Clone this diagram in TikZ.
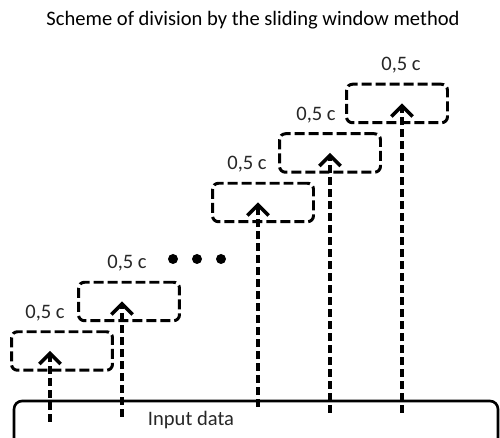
\documentclass[tikz,border=0pt]{standalone}
\usepackage{fontspec}
\setmainfont{Carlito}
\usetikzlibrary{arrows.meta}
\usetikzlibrary{positioning}

\tikzset{
  window/.style={draw, dash pattern=on 0.2cm off 0.08cm, line width=1.7pt,
    rounded corners=0.12cm, minimum width=2.02cm, minimum height=0.77cm, inner sep=0pt},
  shift arrow/.style={dash pattern=on 0.16cm off 0.08cm, line width=2pt,
    -{Straight Barb[length=6pt,width=12pt]}},
  share/.style={font=\fontsize{11.7}{13}\selectfont, text=black!85, inner sep=0pt},
}

\begin{document}
\begin{tikzpicture}[x=0.02cm, y=0.02cm]
\clip (0,0) rectangle (500,438);
% title
\node[share, text=black] (title) at (253,418) {Scheme of division by the sliding window method};
% input data
\node[draw, line width=1.5pt, rounded corners=0.16cm, minimum width=9.68cm,
  minimum height=1.2cm] (input) at (256,7) {};
\node[share] (inputtext) at (191,18) {Input data};
% windows and their shares
\foreach \i/\lx in {0/-17, 1/-2, 3/-16, 4/-14, 5/4}{
  \node[window] (w\i) at (62+67*\i, 87+49.5*\i) {};
  \node[share] (c\i) at (62+67*\i+\lx, 125+49.5*\i) {0,5 c};
}
% draw shifting arrows
\foreach \i/\ax/\sy in {0/50/16, 1/122/21, 3/258/31, 4/330/25, 5/402/25}{
  \coordinate (s\i) at (\ax,\sy);
  \draw[shift arrow] (s\i) -- (s\i |- w\i.center);
}
% skipped windows
\foreach \k in {0,1,2}{
  \fill (173+24*\k, 179) circle (0.1cm);
}
\end{tikzpicture}
\end{document}
